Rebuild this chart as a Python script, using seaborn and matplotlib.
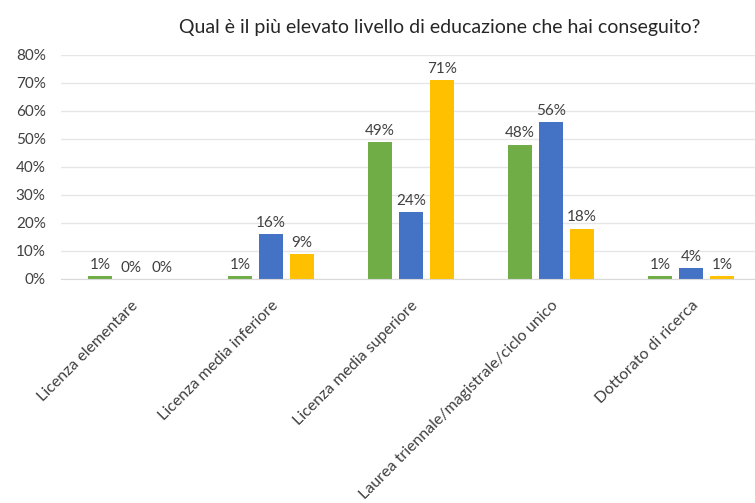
import pandas as pd
import matplotlib
matplotlib.use("Agg")
import matplotlib.pyplot as plt
import seaborn as sns

categories = [
    "Licenza elementare",
    "Licenza media inferiore",
    "Licenza media superiore",
    "Laurea triennale/magistrale/ciclo unico",
    "Dottorato di ricerca",
]
series = ["Serie 1", "Serie 2", "Serie 3"]
serie_1 = [1, 1, 49, 48, 1]
serie_2 = [0, 16, 24, 56, 4]
serie_3 = [0, 9, 71, 18, 1]
colors = ["#70AD47", "#4472C4", "#FFC000"]

rows = []
for name, vals in zip(series, [serie_1, serie_2, serie_3]):
    for cat, v in zip(categories, vals):
        rows.append({"categoria": cat, "serie": name, "valore": v})
df = pd.DataFrame(rows)

sns.set_style("white")
plt.rcParams["font.family"] = ["Lato", "DejaVu Sans"]

fig = plt.figure(figsize=(7.55, 5.03), dpi=100)
ax = fig.add_axes([61 / 755, 1 - 279 / 503, 694 / 755, 224 / 503])

sns.barplot(data=df, x="categoria", y="valore", hue="serie", order=categories,
            hue_order=series, palette=colors, saturation=1, width=0.664, gap=0.23,
            legend=False, ax=ax, linewidth=0)

for cont in ax.containers:
    ax.bar_label(cont, fmt="%.0f%%", padding=3, fontsize=11, color="#404040")

ax.set_ylim(0, 80)
ax.set_xlim(-0.5, 4.457)
ax.set_yticks(range(0, 81, 10))
ax.set_yticklabels([f"{t}%" for t in range(0, 81, 10)], fontsize=11, color="#404040")
ax.yaxis.grid(True, color="#e6e6e6", linewidth=1)
ax.set_axisbelow(True)
ax.set_xlabel("")
ax.set_ylabel("")
ax.tick_params(axis="both", length=0)
ax.tick_params(axis="y", pad=11)
ax.tick_params(axis="x", pad=14)
ax.set_xticks(range(len(categories)))
ax.set_xticklabels(categories, rotation=45, ha="right", rotation_mode="anchor",
                   fontsize=11.5, color="#404040")
for s in ["top", "right", "left"]:
    ax.spines[s].set_visible(False)
ax.spines["bottom"].set_color("#d9d9d9")

fig.text(440 / 755, 1 - 27 / 503, "Qual è il più elevato livello di educazione che hai conseguito?",
         ha="center", va="center", fontsize=14, color="#262626")

fig.savefig("out.png", dpi=100)
